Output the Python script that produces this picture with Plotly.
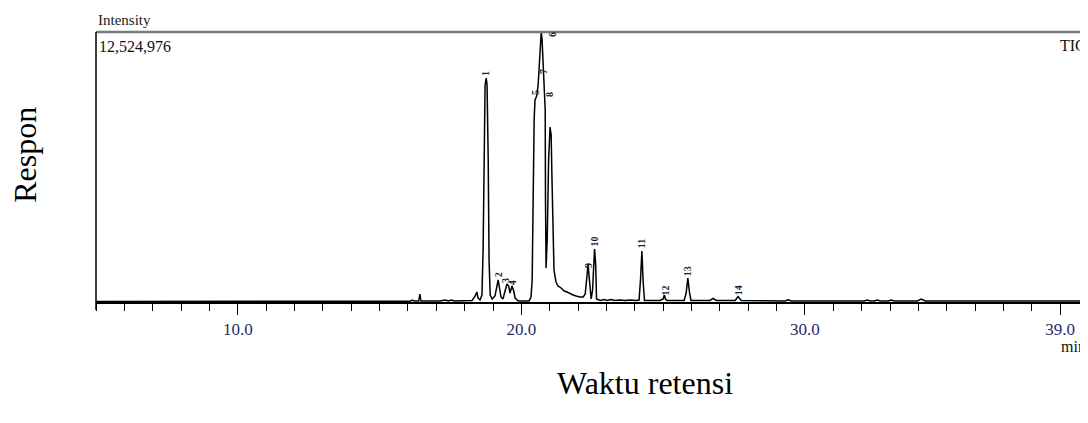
import plotly.graph_objects as go

# Retention time (min) and relative intensity (% of full scale 12,524,976)
rt = [5.00, 15.72, 16.08, 16.15, 16.22, 16.38, 16.42, 16.46, 17.13, 17.31, 17.42, 17.54, 17.63,
      18.26, 18.37, 18.43, 18.47, 18.54, 18.61, 18.65, 18.69, 18.72, 18.76, 18.79, 18.83, 18.86, 18.90,
      18.97, 19.07, 19.14, 19.18, 19.21, 19.28, 19.35, 19.42, 19.49, 19.55, 19.60, 19.67, 19.73, 19.78,
      19.89, 20.27, 20.34, 20.38, 20.41, 20.45, 20.48, 20.54, 20.59, 20.64, 20.70, 20.73, 20.77, 20.80,
      20.84, 20.85, 20.87, 20.91, 20.96, 21.01, 21.05, 21.08, 21.12, 21.15, 21.22, 21.29, 21.40, 21.51,
      21.61, 21.72, 21.82, 21.93, 22.07, 22.18, 22.25, 22.30, 22.35, 22.40, 22.46, 22.51, 22.55, 22.58,
      22.62, 22.65, 22.78, 22.92, 23.02, 23.16, 23.30, 23.48, 23.66, 23.83, 24.05, 24.15, 24.20, 24.25,
      24.29, 24.34, 24.89, 25.00, 25.04, 25.08, 25.14, 25.74, 25.81, 25.87, 25.93, 25.98, 26.65, 26.76,
      26.87, 27.54, 27.64, 27.75, 29.30, 29.41, 29.52, 32.09, 32.20, 32.30, 32.45, 32.55, 32.66, 32.94,
      33.04, 33.15, 33.96, 34.10, 34.24, 39.98]
intensity = [0.19, 0.19, 0.30, 0.74, 0.37, 0.37, 2.96, 0.37, 0.37, 0.74, 0.37, 0.74, 0.37,
             0.56, 2.22, 3.70, 1.48, 0.74, 2.59, 19.26, 56.30, 80.37, 82.96, 80.37, 52.59, 15.56, 2.59,
             1.11, 2.22, 6.67, 8.15, 6.30, 1.85, 1.11, 3.70, 6.67, 5.93, 3.33, 5.93, 4.07, 1.48,
             0.37, 0.37, 1.85, 8.15, 37.78, 67.41, 74.81, 76.30, 80.37, 89.63, 100.0, 97.04, 87.78, 78.52,
             71.11, 37.78, 12.59, 22.96, 52.59, 64.81, 61.85, 45.19, 22.96, 11.85, 7.41, 5.93, 5.19, 4.07,
             3.70, 2.96, 2.59, 2.22, 1.85, 1.85, 2.96, 8.15, 14.07, 8.15, 1.11, 4.44, 15.56, 19.63,
             13.70, 1.11, 0.56, 0.93, 0.56, 0.93, 0.56, 0.74, 0.56, 0.74, 0.56, 0.74, 8.15, 18.89,
             8.15, 0.56, 0.56, 1.11, 2.59, 1.11, 0.56, 0.56, 3.33, 8.89, 3.33, 0.56, 0.56, 1.30,
             0.56, 0.56, 2.04, 0.56, 0.37, 0.81, 0.37, 0.37, 0.74, 0.37, 0.37, 0.74, 0.37, 0.37,
             0.74, 0.37, 0.37, 1.11, 0.37, 0.37]

# Peak numbering
peak_ids = ["1", "2", "3", "4", "5", "6", "7", "8", "9", "10", "11", "12", "13", "14"]
peak_rt = [18.76, 19.18, 19.46, 19.67, 20.48, 21.12, 20.80, 21.01, 22.35, 22.58, 24.26, 25.08, 25.89, 27.64]
peak_label_y = [84.5, 10.0, 7.8, 7.0, 77.4, 98.9, 85.2, 76.7, 13.3, 22.2, 21.5, 4.4, 11.5, 4.4]

tick_vals = [10, 20, 30, 39]
tick_text = ["10.0", "20.0", "30.0", "39.0"]

SERIF = "Liberation Serif"

fig = go.Figure()
fig.add_trace(go.Scatter(x=rt, y=intensity, mode="lines",
                         line=dict(color="black", width=1.5), hoverinfo="skip"))

for pid, px, py in zip(peak_ids, peak_rt, peak_label_y):
    fig.add_annotation(x=px, y=py, xref="x", yref="y", text="<b>" + pid + "</b>", showarrow=False,
                       textangle=-90, font=dict(family=SERIF, size=10, color="#1b1b3a"),
                       xanchor="center", yanchor="middle")

# page body has an 8px margin, so the figure is sized to fit the 1088x423 window
fig.update_layout(
    width=1080, height=407,
    margin=dict(l=88, r=0, t=24, b=113),
    paper_bgcolor="white", plot_bgcolor="white",
    showlegend=False,
    xaxis=dict(range=[5.0, 39.98], showgrid=False, zeroline=False,
               showline=True, linecolor="black", linewidth=2,
               tickvals=tick_vals, ticktext=tick_text, ticks="outside", ticklen=11,
               tickwidth=1, tickcolor="black",
               tickfont=dict(family=SERIF, size=17, color="#1f2a6b"),
               minor=dict(dtick=1, tick0=5, ticks="outside", ticklen=7, tickwidth=1, tickcolor="black")),
    yaxis=dict(range=[0, 100], showgrid=False, zeroline=False, showticklabels=False,
               showline=False, ticks=""),
)

# frame: gray top line, black left line
fig.add_shape(type="line", xref="paper", yref="paper", x0=0, x1=1, y0=1, y1=1,
              line=dict(color="#7a7a7a", width=2.5))
fig.add_shape(type="line", xref="paper", yref="paper", x0=0, x1=0, y0=-0.03, y1=1,
              line=dict(color="black", width=1.5))

fig.add_annotation(text="Intensity", xref="paper", yref="paper", x=0, y=1.0, yshift=12,
                   xanchor="left", yanchor="middle", showarrow=False,
                   font=dict(family=SERIF, size=15, color="#222"))
fig.add_annotation(text="12,524,976", xref="paper", yref="paper", x=0.001, y=1.0, yshift=-14,
                   xanchor="left", yanchor="middle", showarrow=False,
                   font=dict(family=SERIF, size=16, color="#111"))
fig.add_annotation(text="TIC", xref="paper", yref="paper", x=1.0, y=1.0, yshift=-13,
                   xanchor="right", yanchor="middle", showarrow=False,
                   font=dict(family=SERIF, size=16, color="#111"))
fig.add_annotation(text="min", xref="paper", yref="paper", x=1.0, y=0, yshift=-44,
                   xanchor="right", yanchor="middle", showarrow=False,
                   font=dict(family=SERIF, size=16, color="#111"))
fig.add_annotation(text="Respon", xref="paper", yref="paper", x=0, xshift=-71, y=0.545,
                   textangle=-90, xanchor="center", yanchor="middle", showarrow=False,
                   font=dict(family=SERIF, size=32, color="black"))
fig.add_annotation(text="Waktu retensi", xref="paper", yref="paper", x=0.553, y=0, yshift=-81,
                   xanchor="center", yanchor="middle", showarrow=False,
                   font=dict(family=SERIF, size=32, color="black"))

fig.write_html("out.html")
